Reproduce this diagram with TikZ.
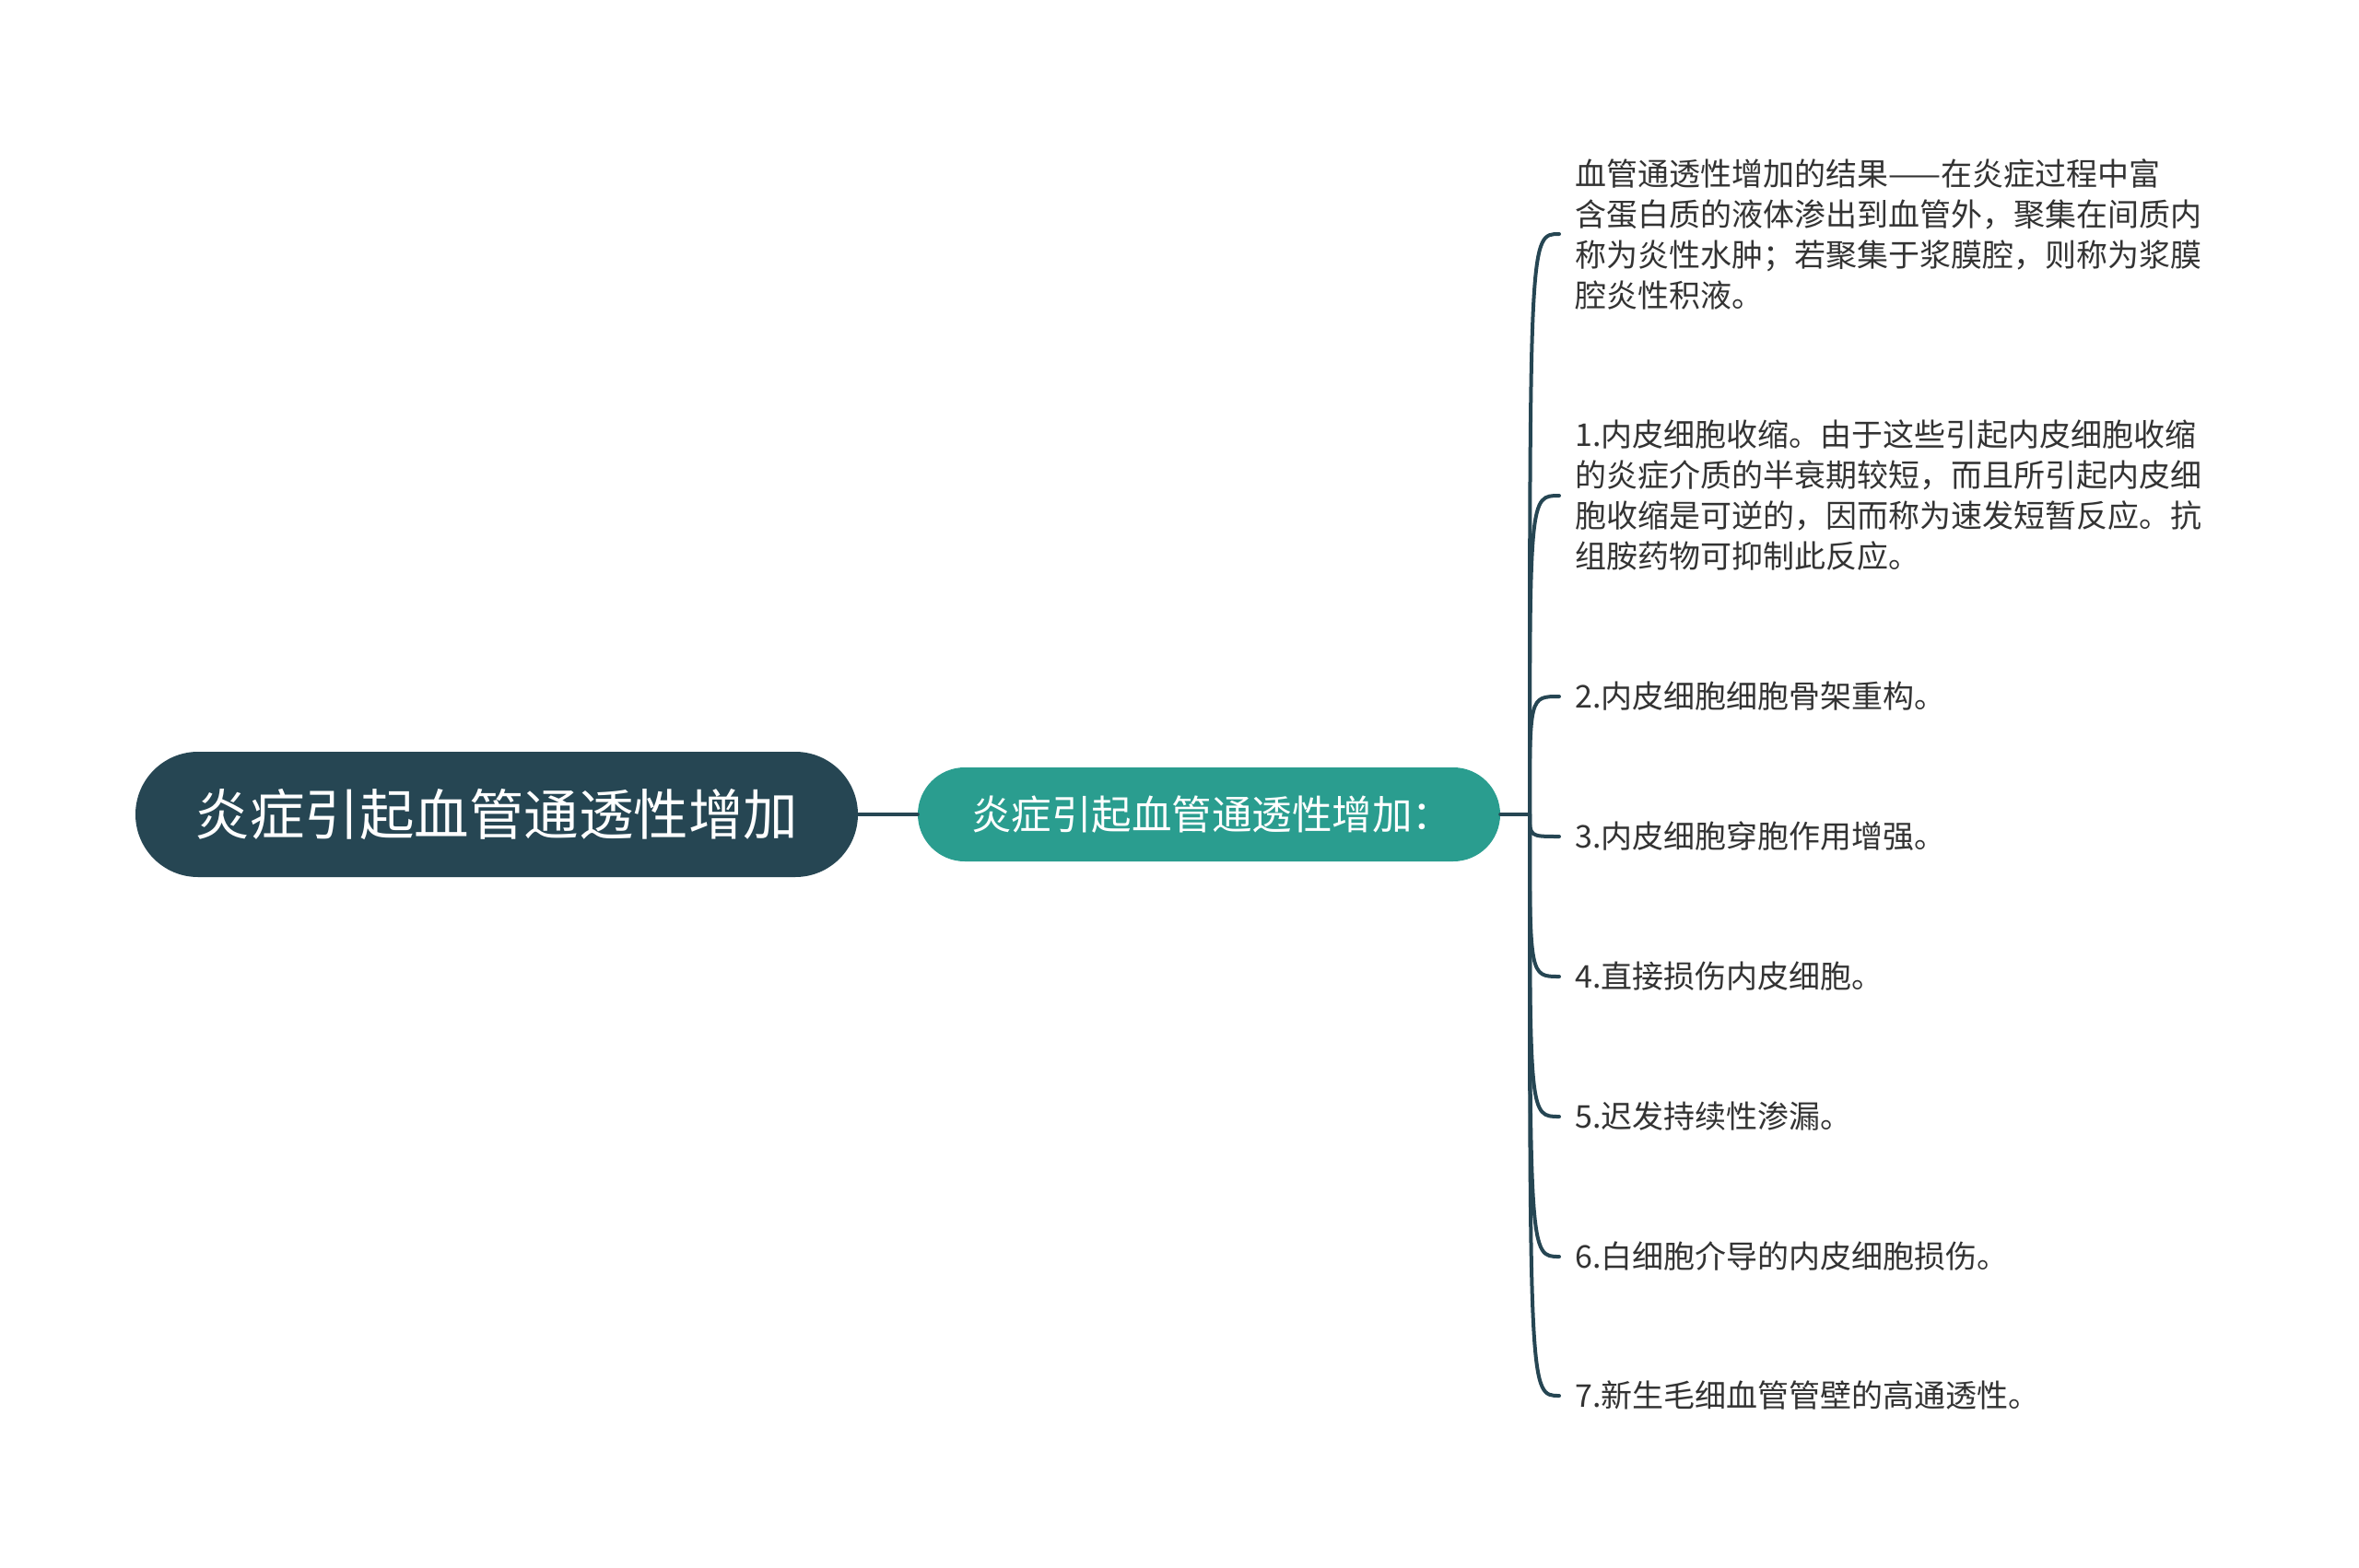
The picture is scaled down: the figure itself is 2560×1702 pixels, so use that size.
\documentclass[tikz,border=0pt]{standalone}
\usepackage{fontspec}
\setmainfont{Noto Sans CJK SC}
\definecolor{rootc}{HTML}{264653}
\definecolor{midc}{HTML}{2A9D8F}
\definecolor{linkc}{HTML}{264653}
\definecolor{leafc}{HTML}{333333}
\begin{document}
\begin{tikzpicture}[x=1pt,y=-1pt,
  rootbox/.style={draw=none,fill=rootc,text=white,rounded corners=68pt,minimum width=784pt,minimum height=136pt,inner sep=0pt,font=\fontsize{59.5pt}{70pt}\selectfont},
  midbox/.style={draw=none,fill=midc,text=white,rounded corners=51pt,minimum width=632pt,minimum height=102pt,inner sep=0pt,font=\fontsize{43.5pt}{50pt}\selectfont},
  leaftext/.style={anchor=west,align=left,inner xsep=17pt,inner ysep=0pt,text=leafc,font=\fontsize{34pt}{44pt}\selectfont},
  link/.style={draw=linkc,line width=4pt,line cap=round}]
\useasboundingbox (0,0) rectangle (2560,1702);
\fill[white] (0,0) rectangle (2560,1702);
\node[rootbox] (root) at (539,884) {炎症引起血管通透性增加};
\node[midbox] (mid) at (1312,884) {\hspace*{6pt}炎症引起血管通透性增加：};
\coordinate (J) at (1660,884);
\node[leaftext] (l0) at (1692,254) {血管通透性增加的结果——在炎症过程中富\\含蛋白质的液体渗出到血管外，聚集在间质内\\称为炎性水肿；若聚集于浆膜腔，则称为浆膜\\腔炎性积液。};
\node[leaftext] (l1) at (1692,538) {1.内皮细胞收缩。由于这些引起内皮细胞收缩\\的炎症介质的半衰期较短，而且所引起内皮细\\胞收缩是可逆的，因而称为速发短暂反应。抗\\组胺药物可抑制此反应。};
\node[leaftext] (l2) at (1692,756) {2.内皮细胞细胞骨架重构。};
\node[leaftext] (l3) at (1692,908) {3.内皮细胞穿胞作用增强。};
\node[leaftext] (l4) at (1692,1060) {4.直接损伤内皮细胞。};
\node[leaftext] (l5) at (1692,1212) {5.迟发持续性渗漏。};
\node[leaftext] (l6) at (1692,1364) {6.白细胞介导的内皮细胞损伤。};
\node[leaftext] (l7) at (1692,1515) {7.新生毛细血管管壁的高通透性。};
\draw[link] (root.east) -- (mid.west);
\draw[link] (mid.east) -- (J);
\foreach \n in {l0,l1,l2,l3,l4,l5,l6,l7}{
  \draw[link] (J) .. controls (J |- \n.west) and (J |- \n.west) .. (\n.west);
}
\end{tikzpicture}
\end{document}
